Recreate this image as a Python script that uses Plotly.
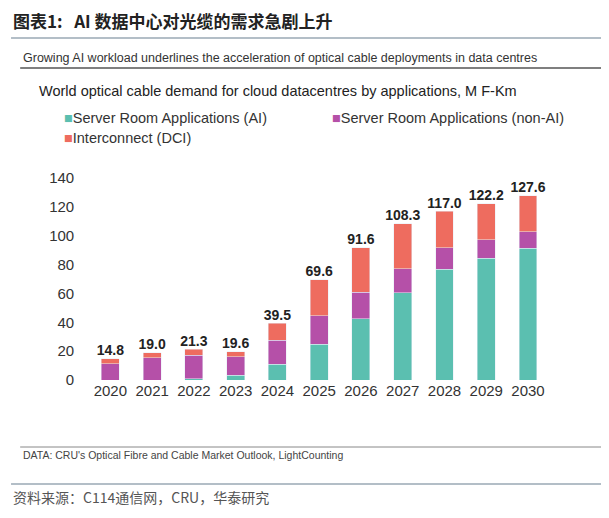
import plotly.graph_objects as go

years = ['2020', '2021', '2022', '2023', '2024', '2025', '2026', '2027', '2028', '2029', '2030']
ai = [0, 0, 0.8, 3.2, 10.9, 24.8, 42.4, 60.6, 76.9, 84.3, 91.4]
non_ai = [11.1, 15.5, 16.3, 12.8, 16.6, 19.9, 18.5, 16.5, 14.8, 12.9, 11.4]
dci = [3.7, 3.5, 4.2, 3.6, 12.0, 24.9, 30.7, 31.2, 25.3, 25.0, 24.8]
totals = [14.8, 19.0, 21.3, 19.6, 39.5, 69.6, 91.6, 108.3, 117.0, 122.2, 127.6]

font = 'Liberation Sans'
H = 518.0
off = 8  # vertical correction in px


def py(px):
    return 1 - (px - off) / H


fig = go.Figure()
fig.add_bar(x=years, y=ai, name='Server Room Applications (AI)', marker_color='#5bbfb0')
fig.add_bar(x=years, y=non_ai, name='Server Room Applications (non-AI)', marker_color='#b550a8')
fig.add_bar(x=years, y=dci, name='Interconnect (DCI)', marker_color='#ee6c5f')
fig.add_scatter(x=years, y=totals, mode='text', text=[f'<b>{t:.1f}</b>' for t in totals],
                textposition='top center', showlegend=False,
                textfont=dict(size=14, color='#222', family=font),
                cliponaxis=False)

fig.update_layout(
    barmode='stack', bargap=0.57, width=609, height=518,
    margin=dict(l=0, r=0, t=0, b=0, autoexpand=False),
    paper_bgcolor='white', plot_bgcolor='white',
    font=dict(family=font, size=13, color='#333'),
    showlegend=False,
    xaxis=dict(domain=[0.13, 0.892], showline=False, tickfont=dict(size=15, color='#333'),
               ticks='', automargin=False),
    yaxis=dict(domain=[py(380), py(178)], range=[0, 140], dtick=20, showgrid=False, zeroline=False,
               tickfont=dict(size=15, color='#333'), automargin=False, ticklabelstandoff=12),
)

ann = [
    dict(x=0.005, y=py(21), text='<b>图表1:   AI 数据中心对光缆的需求急剧上升</b>', size=17,
         color='#222', fam='Noto Sans CJK SC'),
    dict(x=0.022, y=py(58), text='Growing AI workload underlines the acceleration of optical cable deployments in data centres',
         size=12.5, color='#333', fam=font),
    dict(x=0.048, y=py(91), text='World optical cable demand for cloud datacentres by applications, M F-Km',
         size=14.5, color='#222', fam=font),
    dict(x=0.088, y=py(118), text='<span style="color:#5bbfb0">■</span>Server Room Applications (AI)',
         size=14.5, color='#333', fam=font),
    dict(x=0.528, y=py(118), text='<span style="color:#b550a8">■</span>Server Room Applications (non-AI)',
         size=14.5, color='#333', fam=font),
    dict(x=0.088, y=py(138), text='<span style="color:#ee6c5f">■</span>Interconnect (DCI)',
         size=14.5, color='#333', fam=font),
    dict(x=0.022, y=py(455), text='DATA: CRU\'s Optical Fibre and Cable Market Outlook, LightCounting',
         size=10.5, color='#444', fam=font),
    dict(x=0.005, y=py(497), text='资料来源：C114通信网，CRU，华泰研究',
         size=14, color='#555', fam='Noto Sans CJK SC'),
]
for a in ann:
    fig.add_annotation(x=a['x'], y=a['y'], xref='paper', yref='paper', text=a['text'],
                       showarrow=False, xanchor='left', yanchor='middle',
                       font=dict(size=a['size'], color=a['color'], family=a['fam']))

for y, c, w, x0, x1 in [(38, '#9aa8b4', 1.5, 0.005, 0.995), (68, '#555', 1.5, 0.02, 0.978),
                        (447, '#888', 1, 0.02, 0.978), (484, '#9aa8b4', 1.5, 0.005, 0.995)]:
    fig.add_shape(type='line', xref='paper', yref='paper', x0=x0, x1=x1,
                  y0=py(y), y1=py(y), line=dict(color=c, width=w))

fig.write_html('out.html')
